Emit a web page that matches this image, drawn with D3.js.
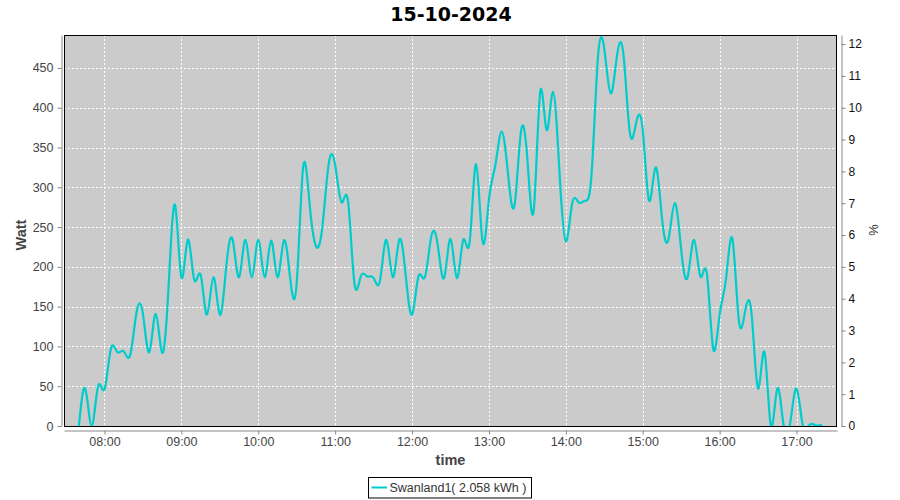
<!DOCTYPE html>
<html>
<head>
<meta charset="utf-8">
<script src="https://cdn.jsdelivr.net/npm/d3@7"></script>
<style>
  body { margin: 0; background: #fff; }
  text { font-family: "Liberation Sans", Arial, sans-serif; }
</style>
</head>
<body>
<div id="container"></div>
<script>
// readings every 5 minutes
const times = [
  "07:40","07:45","07:50","07:55",
  "08:00","08:05","08:10","08:15","08:20","08:25","08:30","08:35","08:40","08:45","08:50","08:55",
  "09:00","09:05","09:10","09:15","09:20","09:25","09:30","09:35","09:40","09:45","09:50","09:55",
  "10:00","10:05","10:10","10:15","10:20","10:25","10:30","10:35","10:40","10:45","10:50","10:55",
  "11:00","11:05","11:10","11:15","11:20","11:25","11:30","11:35","11:40","11:45","11:50","11:55",
  "12:00","12:05","12:10","12:15","12:20","12:25","12:30","12:35","12:40","12:45","12:50","12:55",
  "13:00","13:05","13:10","13:15","13:20","13:25","13:30","13:35","13:40","13:45","13:50","13:55",
  "14:00","14:05","14:10","14:15","14:20","14:25","14:30","14:35","14:40","14:45","14:50","14:55",
  "15:00","15:05","15:10","15:15","15:20","15:25","15:30","15:35","15:40","15:45","15:50","15:55",
  "16:00","16:05","16:10","16:15","16:20","16:25","16:30","16:35","16:40","16:45","16:50","16:55",
  "17:00","17:05","17:10","17:15","17:20"
];
const watts = [
  0, 47, 0, 50,
  46, 97, 93, 94, 89, 143, 141, 93, 141, 92, 175, 278,
  187, 234, 184, 190, 140, 187, 140, 200, 234, 187, 234, 187,
  234, 187, 233, 187, 233, 184, 180, 325, 280, 226, 250, 330,
  328, 281, 283, 180, 188, 188, 186, 183, 234, 187, 234, 190,
  140, 188, 187, 238, 228, 186, 235, 186, 234, 232, 329, 232,
  285, 328, 370, 315, 278, 370, 335, 272, 420, 372, 420, 320,
  232, 280, 281, 283, 315, 462, 474, 418, 466, 466, 368, 382,
  372, 283, 325, 262, 234, 280, 222, 187, 234, 188, 192, 97,
  140, 185, 235, 133, 145, 140, 47, 93, 0, 47, 0, 3,
  47, 0, 1, 1, 1
];
const hourTicks = ["08:00","09:00","10:00","11:00","12:00","13:00","14:00","15:00","16:00","17:00"];
const wattTicks = [0, 50, 100, 150, 200, 250, 300, 350, 400, 450];
const pctTicks = [0, 1, 2, 3, 4, 5, 6, 7, 8, 9, 10, 11, 12];
const chartTitle = "15-10-2024";
const seriesName = "Swanland1( 2.058 kWh )";
const wattMax = 491.4;
const wattsPerPercent = 40;

const w = 900;
const h = 500;
const plotLeft = 64, plotRight = 837, plotTop = 35, plotBottom = 426;
const lineColor = "#00cccc";

const parse = d3.timeParse("%H:%M");
const t = times.map(parse);
const span = t[t.length - 1] - t[0];

const xScale = d3.scaleTime()
  .domain([new Date(+t[0] - span * 0.02), new Date(+t[t.length - 1] + span * 0.02)])
  .range([plotLeft, plotRight]);
const yScale = d3.scaleLinear()
  .domain([0, wattMax])
  .range([plotBottom, plotTop]);
const pctScale = d3.scaleLinear()
  .domain([0, wattMax / wattsPerPercent])
  .range([plotBottom, plotTop]);

const svg = d3.select("#container")
  .append("svg")
  .attr("width", w)
  .attr("height", h);

svg.append("rect")
  .attr("x", plotLeft).attr("y", plotTop)
  .attr("width", plotRight - plotLeft).attr("height", plotBottom - plotTop)
  .attr("fill", "#cbcbcb");

// grid
svg.append("g")
  .selectAll("line")
  .data(wattTicks.slice(1))
  .enter()
  .append("line")
  .attr("x1", plotLeft).attr("x2", plotRight)
  .attr("y1", d => Math.round(yScale(d)) + 0.5)
  .attr("y2", d => Math.round(yScale(d)) + 0.5)
  .attr("stroke", "#fff")
  .attr("stroke-dasharray", "2,2");

svg.append("g")
  .selectAll("line")
  .data(hourTicks.map(parse))
  .enter()
  .append("line")
  .attr("x1", d => Math.round(xScale(d)) + 0.5)
  .attr("x2", d => Math.round(xScale(d)) + 0.5)
  .attr("y1", plotTop).attr("y2", plotBottom)
  .attr("stroke", "#fff")
  .attr("stroke-dasharray", "2,2");

svg.append("clipPath")
  .attr("id", "plotclip")
  .append("rect")
  .attr("x", plotLeft).attr("y", plotTop)
  .attr("width", plotRight - plotLeft).attr("height", plotBottom - plotTop);

const line = d3.line()
  .x((d, i) => xScale(t[i]))
  .y(d => yScale(d))
  .curve(d3.curveNatural);

svg.append("path")
  .datum(watts)
  .attr("clip-path", "url(#plotclip)")
  .attr("d", line)
  .attr("fill", "none")
  .attr("stroke", lineColor)
  .attr("stroke-width", 2.2);

svg.append("rect")
  .attr("x", plotLeft + 0.5).attr("y", plotTop + 0.5)
  .attr("width", plotRight - plotLeft - 1).attr("height", plotBottom - plotTop)
  .attr("fill", "none")
  .attr("stroke", "#000");

// axes
const xAxis = d3.axisBottom(xScale)
  .tickValues(hourTicks.map(parse))
  .tickFormat(d3.timeFormat("%H:%M"))
  .tickSizeInner(4).tickSizeOuter(0).tickPadding(3);
const yAxis = d3.axisLeft(yScale)
  .tickValues(wattTicks)
  .tickSizeInner(4).tickSizeOuter(0).tickPadding(4);
const pAxis = d3.axisRight(pctScale)
  .tickValues(pctTicks)
  .tickSizeInner(4).tickSizeOuter(0).tickPadding(3);

const gx = svg.append("g")
  .attr("transform", "translate(0," + (plotBottom + 4.5) + ")")
  .call(xAxis);
const gy = svg.append("g")
  .attr("transform", "translate(" + (plotLeft - 2.5) + ",0)")
  .call(yAxis);
const gp = svg.append("g")
  .attr("transform", "translate(" + (plotRight + 4.5) + ",0)")
  .call(pAxis);

[gx, gy, gp].forEach(g => {
  g.select(".domain").attr("stroke", "#888");
  g.selectAll(".tick line").attr("stroke", "#888");
  g.selectAll("text")
    .style("font-family", "'Liberation Sans', Arial, sans-serif")
    .style("font-size", "12.5px")
    .attr("fill", "#444");
});
gp.selectAll("text").attr("fill", "#111").style("font-size", "12px");

// titles
svg.append("text")
  .attr("x", 451).attr("y", 21)
  .attr("text-anchor", "middle")
  .style("font-family", "'DejaVu Sans', sans-serif")
  .style("font-weight", "bold")
  .style("font-size", "19px")
  .attr("fill", "#000")
  .text(chartTitle);

svg.append("text")
  .attr("x", 450.5).attr("y", 465)
  .attr("text-anchor", "middle")
  .style("font-weight", "bold")
  .style("font-size", "14.5px")
  .attr("fill", "#444")
  .text("time");

svg.append("text")
  .attr("transform", "translate(26,235) rotate(-90)")
  .attr("text-anchor", "middle")
  .style("font-weight", "bold")
  .style("font-size", "14.5px")
  .attr("fill", "#444")
  .text("Watt");

svg.append("text")
  .attr("transform", "translate(869,230) rotate(90)")
  .attr("text-anchor", "middle")
  .style("font-size", "13px")
  .attr("fill", "#333")
  .text("%");

// legend
const legend = svg.append("g");
legend.append("rect")
  .attr("x", 368.5).attr("y", 477.5)
  .attr("width", 163).attr("height", 20.5)
  .attr("fill", "#fff")
  .attr("stroke", "#000");
legend.append("line")
  .attr("x1", 371.5).attr("x2", 387)
  .attr("y1", 487.5).attr("y2", 487.5)
  .attr("stroke", lineColor)
  .attr("stroke-width", 2);
legend.append("text")
  .attr("x", 389.5).attr("y", 492)
  .style("font-size", "12.5px")
  .attr("fill", "#333")
  .text(seriesName);
</script>
</body>
</html>
